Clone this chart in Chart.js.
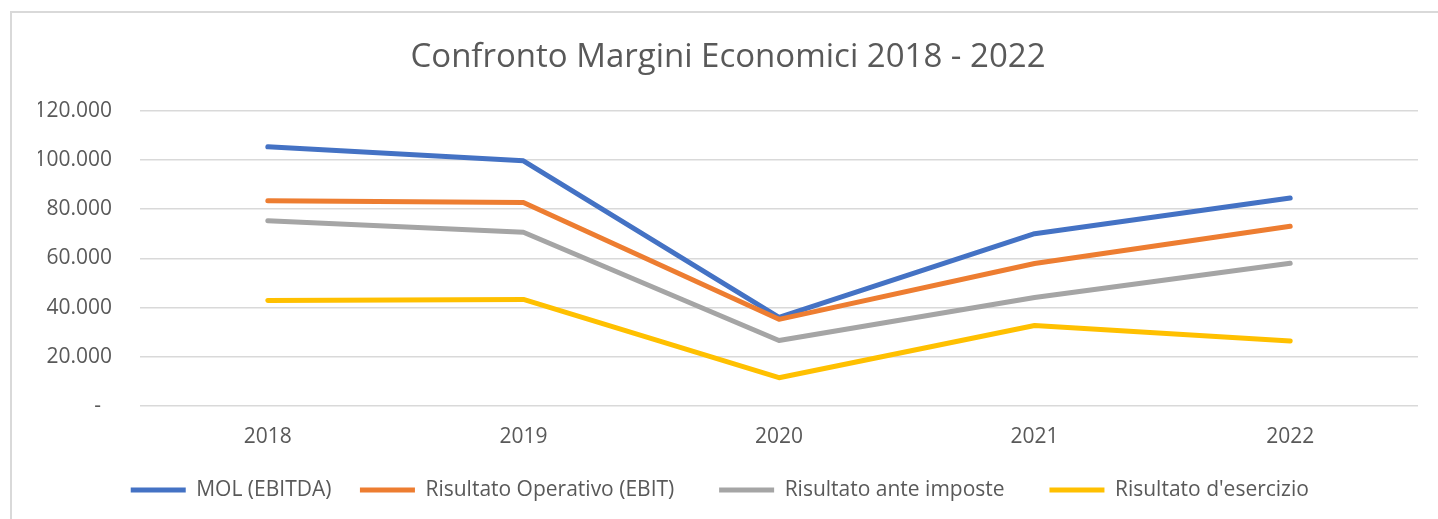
<!DOCTYPE html>
<html>
<head>
<meta charset="utf-8">
<script src="https://cdn.jsdelivr.net/npm/chart.js@4"></script>
<style>
  html, body { margin: 0; padding: 0; background: #fff; overflow: hidden; }
  #frame { position: absolute; left: 10px; top: 11px; width: 1440px; height: 520px; border: 2px solid #d9d9d9; }
  #chart { position: absolute; left: 0; top: 0; }
</style>
</head>
<body>
<div id="frame"></div>
<canvas id="chart" width="1438" height="519"></canvas>
<script>
const anni = ['2018', '2019', '2020', '2021', '2022'];
const mol = [105300, 99600, 36000, 70000, 84500];
const ebit = [83400, 82700, 35200, 57900, 73000];
const anteImposte = [75300, 70600, 26600, 44100, 58000];
const esercizio = [42900, 43300, 11500, 32700, 26400];

const grigio = '#595959';
const font = 'Open Sans';

function formatta(v) {
  if (v === 0) return '-  ';
  return String(v).replace(/\B(?=(\d{3})+(?!\d))/g, '.');
}

function serie(label, data, colore, ordine) {
  return {
    label,
    data,
    borderColor: colore,
    backgroundColor: colore,
    borderWidth: 5,
    borderCapStyle: 'round',
    borderJoinStyle: 'round',
    pointRadius: 0,
    tension: 0,
    order: ordine
  };
}

const ctx = document.getElementById('chart').getContext('2d');
new Chart(ctx, {
  type: 'line',
  data: {
    labels: anni,
    datasets: [
      serie('MOL (EBITDA)', mol, '#4472C4', 4),
      serie('Risultato Operativo (EBIT)', ebit, '#ED7D31', 3),
      serie('Risultato ante imposte', anteImposte, '#A5A5A5', 2),
      serie("Risultato d'esercizio", esercizio, '#FFC000', 1)
    ]
  },
  options: {
    responsive: false,
    animation: false,
    devicePixelRatio: 1,
    layout: { padding: { left: 38, right: 20, top: 0, bottom: 8.5 } },
    plugins: {
      title: {
        display: true,
        text: 'Confronto Margini Economici 2018 - 2022',
        color: grigio,
        font: { family: font, size: 33, weight: 'normal' },
        padding: { top: 38, bottom: 33 }
      },
      legend: {
        position: 'bottom',
        labels: {
          usePointStyle: true,
          pointStyle: 'line',
          pointStyleWidth: 55,
          padding: 28.5,
          color: grigio,
          font: { family: font, size: 21 },
          sort: (a, b) => a.datasetIndex - b.datasetIndex,
          // spazio extra tra le voci senza alzare la legenda
          generateLabels: chart => {
            const items = Chart.defaults.plugins.legend.labels.generateLabels(chart);
            return items.map((item, i) => ({ ...item, text: item.text + (i < items.length - 1 ? '   ' : '') }));
          }
        }
      },
      tooltip: { enabled: false }
    },
    scales: {
      x: {
        offset: true,
        grid: { display: false, drawTicks: false },
        border: { display: false },
        ticks: { color: grigio, font: { family: font, size: 21 }, padding: 18 },
        afterFit: scale => { scale.height = 45; }
      },
      y: {
        min: 0,
        max: 120000,
        grid: { color: '#d9d9d9', lineWidth: 1.5, drawTicks: false },
        border: { display: false },
        ticks: {
          stepSize: 20000,
          color: grigio,
          font: { family: font, size: 21 },
          padding: 28,
          callback: v => formatta(v)
        },
        afterFit: scale => { scale.width = 102; }
      }
    }
  }
});
</script>
</body>
</html>
